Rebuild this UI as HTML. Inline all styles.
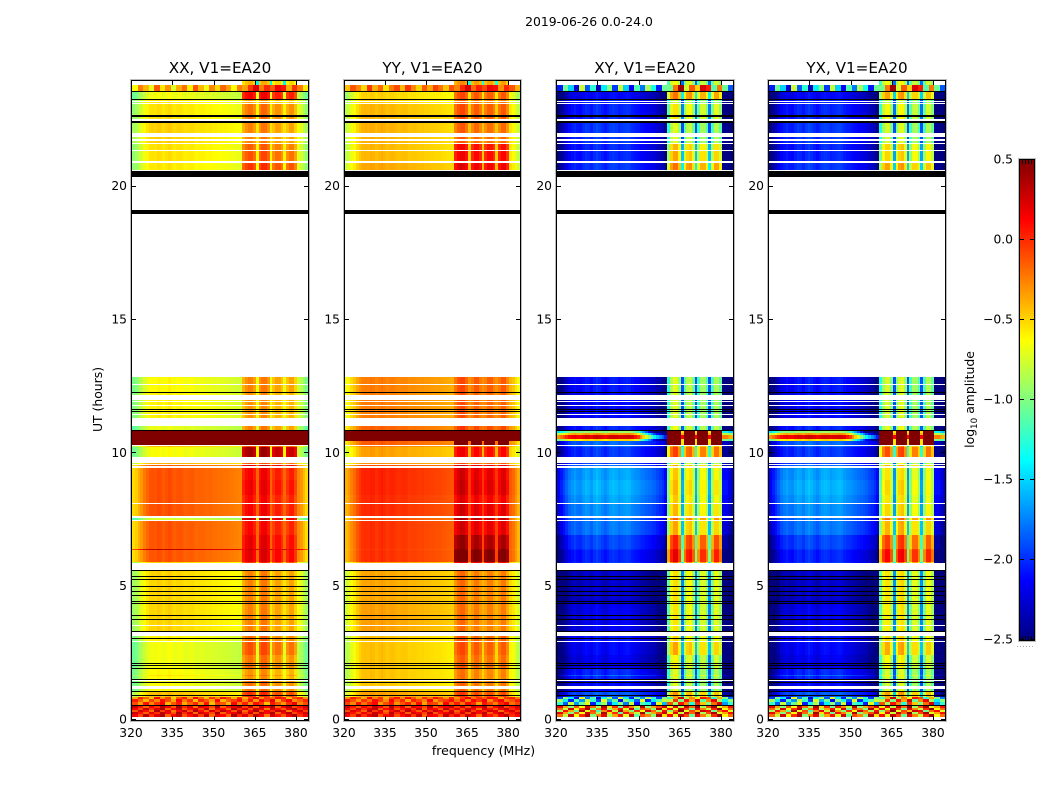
<!DOCTYPE html>
<html>
<head>
<meta charset="utf-8">
<title>2019-06-26 0.0-24.0</title>
<style>
html,body{margin:0;padding:0;background:#fff;width:1050px;height:800px;overflow:hidden}
svg{display:block}
text{font-family:"DejaVu Sans","Liberation Sans",sans-serif;fill:#000}
</style>
</head>
<body>
<svg id="chart" xmlns="http://www.w3.org/2000/svg" width="1050" height="800" viewBox="0 0 1050 800">
<defs><linearGradient id="jetGrad" x1="0" y1="1" x2="0" y2="0"></linearGradient></defs>
<text x="589" y="26" font-size="12.4" text-anchor="middle">2019-06-26 0.0-24.0</text>
<text x="483.5" y="755" font-size="12.5" text-anchor="middle">frequency (MHz)</text>
<text x="0" y="0" font-size="12.4" text-anchor="middle" transform="translate(102,399.5) rotate(-90)">UT (hours)</text>
<text x="0" y="0" font-size="12.4" text-anchor="middle" transform="translate(974,399.5) rotate(-90)">log<tspan dy="3" font-size="8.8">10</tspan><tspan dy="-3"> amplitude</tspan></text>
</svg>
<script>
// ---- axes / labels ----
const panelTitles = ['XX, V1=EA20', 'YY, V1=EA20', 'XY, V1=EA20', 'YX, V1=EA20'];
const freqTicks = [320, 335, 350, 365, 380];
const utTicks = [0, 5, 10, 15, 20];
const colorbarTicks = [0.5, 0.0, -0.5, -1.0, -1.5, -2.0, -2.5];

// ---- UT rows: start hour of each row (top to bottom) and its kind or level group ----
const rowStartUT = [24.000,23.794,23.606,23.569,23.288,23.25,23.224,23.194,23.126,23.089,22.669,22.631,22.549,22.481,22.399,22.024,21.851,21.776,21.724,21.649,21.626,21.375,21.338,20.974,20.899,20.625,20.588,20.374,19.125,18.975,12.863,12.6,12.563,12.311,12.289,12.199,12.0,11.963,11.925,11.813,11.775,11.651,11.625,11.588,11.561,11.464,11.426,11.336,11.025,10.875,10.849,10.763,10.706,10.669,10.556,10.481,10.313,10.275,10.226,9.851,9.638,9.6,9.563,9.525,9.461,9.0,8.438,8.126,8.1,7.65,7.586,7.5,7.463,6.938,6.401,6.375,5.936,5.869,5.625,5.599,5.4,5.374,5.288,5.261,5.025,4.999,4.819,4.793,4.706,4.68,4.481,4.455,4.395,4.369,3.919,3.893,3.806,3.78,3.563,3.536,3.356,3.326,3.161,3.064,3.026,2.951,2.914,2.438,2.119,2.093,2.044,2.018,1.95,1.92,1.706,1.65,1.519,1.493,1.444,1.425,1.395,1.286,1.163,1.069,1.043,0.9375,0.911,0.874,0.788,0.675,0.5625,0.525,0.45,0.375,0.3,0.225,0.1125];
const rowEndUT = 0;
const rowGroup = [0,1,'k',2,'k',3,'w',3,'w',4,'k',4,'w','k',5,'w',5,'w',5,'w',6,'w',7,'w',8,'w','k','w','k','w',9,'w',9,'k',10,'w',10,'w',10,'w',10,'k',10,'k',10,'w',10,'w',11,'k',12,13,14,15,16,17,'w',18,19,'w',20,'w',21,'w',22,23,24,'w',25,'w',26,'w',27,28,29,30,31,'w','k',32,'k',32,'k',32,'k',32,'k',32,'k',32,'k',32,'k',33,'k',33,'k',33,'w',33,'k','w',34,'k',34,'w',35,36,'k',36,'k',36,'k',37,42,37,'k','w',38,'k',38,'w',38,'k',39,'k',39,40,40,40,'k',41,41,41,41,41,'w'];

// ---- log10 amplitude per level group: outside the 360-380 MHz block (Base) and inside it (Rfi) ----
const xxBase = [null,-.45,-.72,-.62,-.6,-.55,-.6,-.6,-.62,-.68,-.65,-.75,.5,.5,.5,.5,.5,.5,-.5,-.7,-.45,-.2,-.17,-.17,-.17,-.17,-.8,-.18,-.18,.25,-.18,-.55,-.56,-.56,-.66,-.72,-.72,-.68,-.7,-.5,-.2,.05,-.6];
const xxRfi  = [-.5,-.1,.05,-.45,-.3,-.35,-.25,-.2,-.12,-.35,-.4,-.35,.5,.5,.5,.5,.5,.5,-.15,.3,-.2,.15,.05,.08,.03,.05,.2,.03,.1,.2,.12,-.1,-.35,-.35,-.28,-.2,-.3,-.4,-.3,-.1,-.15,.05,-.3];
const yyBase = [null,-.3,-.55,-.55,-.47,-.45,-.47,-.47,-.42,-.3,-.3,-.22,.5,.5,-.1,.5,.5,-.2,-.3,-.4,-.35,-.15,-.03,-.03,-.05,-.05,-.15,-.07,-.07,-.1,-.07,-.4,-.42,-.4,-.5,-.5,-.5,-.5,-.52,-.4,-.15,.05,-.5];
const yyRfi  = [-.4,-.05,-.2,-.3,-.2,-.25,.02,.05,.1,-.2,-.22,-.15,.5,.5,.5,.5,.5,.5,-.2,.05,-.2,.15,.15,.18,.1,.15,.25,.15,.33,.42,.48,.1,-.3,-.3,-.22,-.2,-.25,-.32,-.28,-.15,-.1,.05,-.3];
const xyBase = [null,-1.6,-2.2,-2.1,-2.1,-2.05,-2.1,-2.1,-2.05,-2.15,-2.2,-2.1,-1.0,-.4,0,.15,-.6,-1.9,-1.9,-2.05,-2,-1.9,-1.72,-1.68,-1.72,-1.78,-1.85,-1.85,-2.0,-2.05,-2.1,-2.05,-2.35,-2.25,-2.15,-2.2,-2.25,-2.1,-2.2,-1.95,-1.5,-.45,-1.9];
const xyRfi  = [-.75,-.4,-.35,-.9,-.7,-.85,-.55,-.5,-.35,-.85,-.85,-.8,.5,.5,.5,.5,.5,.5,-.4,-.2,-.8,-.5,-.6,-.55,-.6,-.55,-.3,-.5,-.1,0,.05,-.3,-.68,-.7,-.65,-.5,-.75,-.85,-.85,-.45,-.55,-.35,-.7];
const yxBase = [null,-1.6,-2.2,-2.1,-2.1,-2.05,-2.1,-2.1,-2.05,-2.15,-2.2,-2.1,-1.0,-.4,0,.15,-.6,-1.9,-1.9,-2.05,-2,-1.9,-1.72,-1.68,-1.72,-1.78,-1.85,-1.85,-2.0,-2.05,-2.1,-2.05,-2.35,-2.25,-2.15,-2.2,-2.25,-2.1,-2.2,-1.95,-1.5,-.45,-1.9];
const yxRfi  = [-.75,-.4,-.45,-.9,-.75,-.85,-.6,-.6,-.45,-.85,-.85,-.8,.5,.5,.5,.5,.5,.5,-.4,-.2,-.8,-.5,-.65,-.6,-.65,-.6,-.3,-.5,-.15,0,.03,-.3,-.65,-.68,-.62,-.48,-.72,-.85,-.85,-.45,-.55,-.35,-.7];

// ---- per-channel (1 MHz, 320-383) offsets read from the vertical striping ----
const parallelShape = [-.35,-.3,-.22,-.15,-.06,0,.05,.06,.05,.08,.07,.03,.06,.09,.06,.03,.05,.06,.04,.02,.03,.04,.03,0,.01,.01,0,-.01,0,-.02,-.02,-.03,-.03,-.04,-.04,-.05,-.06,-.07,-.08,-.09,0,0,0,0,0,0,0,0,0,0,0,0,0,0,0,0,0,0,0,0,-.1,-.15,-.25,-.35];
const crossShape = [-.45,-.35,-.25,-.15,-.05,0,.05,0,-.02,.05,.1,.08,.02,.1,.15,.1,.05,0,.05,.1,.12,.1,.05,.08,.1,.12,.1,.05,.02,0,-.03,-.05,-.08,-.1,-.12,-.15,-.2,-.25,-.3,-.4,0,0,0,0,0,0,0,0,0,0,0,0,0,0,0,0,0,0,0,0,-.4,-.4,-.5,-.55];
const parallelRfiShape = [-.1,0,.05,.05,-.05,0,-.05,.05,.05,-.05,0,-.05,.05,.05,-.05,0,-.05,.05,.05,-.1];
const crossRfiShape = [-.5,-.1,.05,.05,-.2,0,-.25,0,.05,-.2,0,-.25,.05,.05,-.2,0,-.25,.05,.05,-.2];
const gapChannels = [365, 370, 375];
const xxSubband = [.05,.08,-.05,-.05];
const yySubband = [.08,.02,0,.02];
const xySubband = [.1,0,-.1,-.05];
const yxSubband = [.05,.1,-.1,-.05];
const gapDrop = [.9,.9,1.05,1.05];

// ---- around 10.5 UT the cross hands fade out towards 360 MHz (channels 320-359) ----
const fadeShape = [0,0,0,0,0,0,0,0,0,0,0,0,0,0,0,0,0,0,0,0,0,0,0,0,0,0,0,0,-.1,-.2,-.4,-.6,-.8,-1,-1.2,-1.4,-1.5,-1.6,-1.7,-1.8];
const fadeGroups = [12,13,14,15,16];

// ---- speckle in the noisy rows (2 MHz cells) ----
const noiseGroups = [1,40,41];
const noiseAmp = [.35,.3,.9,.9];
const noiseA = [.3,-.4,.8,-.2,.5,.9,-.6,.2,.7,-.5,.1,.6,-.3,.8,-.7,.4,.2,-.6,.9,-.1,.5,-.4,.7,.3,-.8,.6,.1,-.5,.4,.9,-.2,.3];
const noiseB = [-.5,.6,.1,-.7,.9,-.3,.4,-.8,.2,.7,-.4,.9,.1,-.6,.5,-.2,.8,.3,-.5,.6,-.7,.2,.9,-.4,.3,-.1,.7,.5,-.8,.2,.6,-.3];
const noiseC = [.7,.1,-.6,.4,-.2,.8,.3,-.5,.9,-.1,.5,-.7,.6,.2,-.4,.9,-.6,.1,.4,.8,-.3,.6,-.5,.7,.2,.9,-.6,.3,.8,-.4,.1,.6];

const baseLevels = [xxBase, yyBase, xyBase, yxBase];
const rfiLevels = [xxRfi, yyRfi, xyRfi, yxRfi];
const subbands = [xxSubband, yySubband, xySubband, yxSubband];
const noiseRows = [noiseA, noiseB, noiseC];

// ---- scales ----
const NS = 'http://www.w3.org/2000/svg';
const svg = document.getElementById('chart');
const panelLeft = [132, 345, 557, 769];
const panelWidths = [176, 175, 176, 176];
const plotTop = 80, plotBottom = 720;
const vMin = -2.5, vMax = 0.5;
function xScale(p, mhz) { return panelLeft[p] + (mhz - 320) / 64 * panelWidths[p]; }
function yScale(ut) { return plotBottom - ut / 24 * (plotBottom - plotTop); }
function cbarY(v) { return 640 - (v - vMin) / (vMax - vMin) * 480; }
function clamp01(a) { return Math.max(0, Math.min(1, a)); }
function jet(v) {
  const t = clamp01((v - vMin) / (vMax - vMin));
  const r = clamp01(1.5 - Math.abs(4 * t - 3));
  const g = clamp01(1.5 - Math.abs(4 * t - 2));
  const b = clamp01(1.5 - Math.abs(4 * t - 1));
  return 'rgb(' + Math.round(r * 255) + ',' + Math.round(g * 255) + ',' + Math.round(b * 255) + ')';
}
function make(tag, props, parent) {
  const el = document.createElementNS(NS, tag);
  for (const k in props) el.setAttribute(k, props[k]);
  (parent || svg).appendChild(el);
  return el;
}
function cellValue(p, g, mhz, row) {
  const i = mhz - 320;
  const cross = p >= 2;
  const inRfi = mhz >= 360 && mhz < 380;
  const base = baseLevels[p][g];
  const rfi = rfiLevels[p][g];
  if (noiseGroups.indexOf(g) >= 0) {
    return (inRfi ? rfi : base) + noiseAmp[p] * noiseRows[row % noiseRows.length][Math.floor(i / 2)];
  }
  if (!inRfi) {
    if (base === null) return null;
    if (base >= vMax) return vMax;
    let v = base + (cross ? crossShape : parallelShape)[i];
    if (cross && mhz < 360 && fadeGroups.indexOf(g) >= 0) v += fadeShape[i];
    return v;
  }
  if (rfi >= vMax && base !== null && base >= vMax) return vMax;
  if (gapChannels.indexOf(mhz) >= 0) {
    return Math.max(base === null ? vMin : base, rfi - gapDrop[p]);
  }
  if (rfi >= vMax) return vMax;
  const sb = mhz < 365 ? 0 : mhz < 370 ? 1 : mhz < 375 ? 2 : 3;
  return rfi + subbands[p][sb] + (cross ? crossRfiShape : parallelRfiShape)[i - 40];
}

// ---- panels ----
panelTitles.forEach(function (title, p) {
  const g = make('g', {});
  
  
  const w = panelWidths[p];

  function rowSpan(r) {
    const next = r + 1 < rowStartUT.length ? rowStartUT[r + 1] : rowEndUT;
    const top = Math.round(yScale(rowStartUT[r]));
    return {top: top, h: Math.max(1, Math.round(yScale(next)) - top)};
  }
  // data rows first
  rowStartUT.forEach(function (ut, r) {
    const kind = rowGroup[r];
    if (kind === 'w' || kind === 'k') return;
    const s = rowSpan(r);
    for (let mhz = 320; mhz < 384; mhz++) {
      const v = cellValue(p, kind, mhz, r);
      if (v === null) continue;
      const x0 = Math.round(xScale(p, mhz));
      const x1 = Math.round(xScale(p, mhz + 1));
      const cell = make('rect', {x: x0, y: s.top, width: x1 - x0, height: s.h, fill: jet(v), 'shape-rendering': 'crispEdges'}, g);
      
      
    }
  });
  // gaps with no data, then flagged rows, so one-pixel rows survive rounding
  rowStartUT.forEach(function (ut, r) {
    if (rowGroup[r] !== 'w') return;
    const s = rowSpan(r);
    const gap = make('rect', {x: panelLeft[p], y: s.top, width: w, height: s.h, fill: '#fff', 'shape-rendering': 'crispEdges'}, g);
    
    
  });
  rowStartUT.forEach(function (ut, r) {
    if (rowGroup[r] !== 'k') return;
    const s = rowSpan(r);
    const flag = make('rect', {x: panelLeft[p], y: s.top, width: w, height: s.h, fill: '#000', 'shape-rendering': 'crispEdges'}, g);
    
    
  });

  const halo = make('rect', {x: panelLeft[p] - 1.5, y: plotTop - .5, width: w + 3, height: plotBottom - plotTop + 2, fill: 'none', stroke: '#bbb', 'stroke-width': 1}, g);
  
  
  const frame = make('rect', {x: panelLeft[p] - .5, y: plotTop + .5, width: w + 1, height: plotBottom - plotTop, fill: 'none', stroke: '#000', 'stroke-width': 1}, g);
  
  

  const titleEl = make('text', {x: panelLeft[p] + w / 2, y: 73, 'font-size': 15.2, 'text-anchor': 'middle'}, g);
  titleEl.textContent = title;
  
  

  freqTicks.forEach(function (f) {
    const x = Math.round(xScale(p, f)) - .5;
    const tb = make('line', {x1: x, x2: x, y1: plotBottom, y2: plotBottom - 4, stroke: '#000', 'stroke-width': 1}, g);
    
    
    const tt = make('line', {x1: x, x2: x, y1: plotTop, y2: plotTop + 5, stroke: '#000', 'stroke-width': 1}, g);
    
    
    const lab = make('text', {x: xScale(p, f) - 1, y: 737, 'font-size': 12.3, 'text-anchor': 'middle'}, g);
    lab.textContent = String(f);
    
    
  });
  utTicks.forEach(function (u) {
    const y = Math.round(yScale(u)) - .5;
    const tl = make('line', {x1: panelLeft[p], x2: panelLeft[p] + 4, y1: y, y2: y, stroke: '#000', 'stroke-width': 1}, g);
    
    
    const tr = make('line', {x1: panelLeft[p] + w, x2: panelLeft[p] + w - 4, y1: y, y2: y, stroke: '#000', 'stroke-width': 1}, g);
    
    
    const lab = make('text', {x: panelLeft[p] - 5, y: yScale(u) + 3.5, 'font-size': 12.3, 'text-anchor': 'end'}, g);
    lab.textContent = String(u);
    
    
  });
});

// ---- colorbar ----
const grad = document.getElementById('jetGrad');
for (let s = 0; s <= 8; s++) {
  make('stop', {offset: (s / 8 * 100) + '%', 'stop-color': jet(vMin + (vMax - vMin) * s / 8)}, grad);
}
const cbar = make('g', {});


const cbarX = 1020, cbarW = 14;
const cbarFill = make('rect', {x: cbarX, y: 160, width: cbarW, height: 480, fill: 'url(#jetGrad)'}, cbar);


const cbarHalo = make('rect', {x: cbarX - 1.5, y: 158.5, width: cbarW + 3, height: 483, fill: 'none', stroke: '#bbb', 'stroke-width': 1}, cbar);


const cbarFrame = make('rect', {x: cbarX - .5, y: 159.5, width: cbarW + 1, height: 481, fill: 'none', stroke: '#000', 'stroke-width': 1}, cbar);


colorbarTicks.forEach(function (v) {
  const y = Math.round(cbarY(v)) - .5;
  const a = make('line', {x1: cbarX, x2: cbarX + 4, y1: y, y2: y, stroke: '#000', 'stroke-width': 1}, cbar);
  
  
  const b = make('line', {x1: cbarX + cbarW, x2: cbarX + cbarW - 4, y1: y, y2: y, stroke: '#000', 'stroke-width': 1}, cbar);
  
  
  const lab = make('text', {x: 1013, y: cbarY(v) + 3.5, 'font-size': 12.3, 'text-anchor': 'end'}, cbar);
  lab.textContent = v.toFixed(1).replace('-', '\u2212');
  
  
});
[[160, 164], [636, 640]].forEach(function (span) {
  for (let i = 1; i < 5; i++) {
    const x = cbarX + i * 3 - .5;
    const m = make('line', {x1: x, x2: x, y1: span[0], y2: span[1], stroke: '#000', 'stroke-width': 1}, cbar);
    
    
  }
});
const dots = make('line', {x1: 1017, x2: 1035, y1: 646.5, y2: 646.5, stroke: '#aaa', 'stroke-width': 1, 'stroke-dasharray': '1 2'}, cbar);


</script>
</body>
</html>
